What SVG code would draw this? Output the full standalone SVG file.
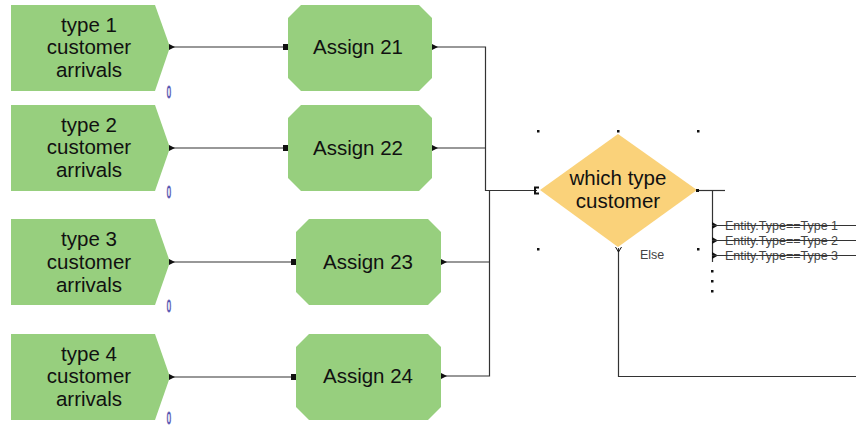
<svg xmlns="http://www.w3.org/2000/svg" width="856" height="427" viewBox="0 0 856 427">
<defs>
<style>
.create{fill:#97cf7e;}
.assign{fill:#97cf7e;}
.decide{fill:#fad27a;}
.lbl{font-family:"Liberation Sans",Arial,sans-serif;font-size:20.5px;fill:#111;text-anchor:middle;}
.zero{font-family:"Liberation Sans",Arial,sans-serif;font-size:17px;fill:none;stroke:#4444aa;stroke-width:1.1;text-anchor:middle;}
.small{font-family:"Liberation Sans",Arial,sans-serif;font-size:12.5px;fill:#444;}
.wire{fill:none;stroke:#333;stroke-width:1.2;}
.mk{fill:#111;}
.dot{fill:#111;}
</style>
</defs>
<rect width="856" height="427" fill="#fff"/>

<g id="create1">
<polygon class="create" points="11,5 155,5 170,47 155,91 11,91"/>
<text class="lbl" x="89" y="31.5">type 1</text>
<text class="lbl" x="89" y="54">customer</text>
<text class="lbl" x="89" y="77">arrivals</text>
<text class="zero" x="169" y="98" transform="translate(169 98) scale(0.45 1) translate(-169 -98)">0</text>
</g>
<g id="create2">
<polygon class="create" points="11,105 155,105 170,148 155,191 11,191"/>
<text class="lbl" x="89" y="131.5">type 2</text>
<text class="lbl" x="89" y="154">customer</text>
<text class="lbl" x="89" y="177">arrivals</text>
<text class="zero" x="169" y="198" transform="translate(169 198) scale(0.45 1) translate(-169 -198)">0</text>
</g>
<g id="create3">
<polygon class="create" points="11,219 155,219 170,262 155,305 11,305"/>
<text class="lbl" x="89" y="246">type 3</text>
<text class="lbl" x="89" y="268.5">customer</text>
<text class="lbl" x="89" y="291.5">arrivals</text>
<text class="zero" x="169" y="312" transform="translate(169 312) scale(0.45 1) translate(-169 -312)">0</text>
</g>
<g id="create4">
<polygon class="create" points="11,334 155,334 170,377 155,420 11,420"/>
<text class="lbl" x="89" y="360.5">type 4</text>
<text class="lbl" x="89" y="383">customer</text>
<text class="lbl" x="89" y="406">arrivals</text>
<text class="zero" x="169" y="424" transform="translate(169 424) scale(0.45 1) translate(-169 -424)">0</text>
</g>

<g id="assign21">
<polygon class="assign" points="301,5 419,5 432,18 432,78 419,91 301,91 288,78 288,18"/>
<text class="lbl" x="358" y="54">Assign 21</text>
</g>
<g id="assign22">
<polygon class="assign" points="301,105 419,105 432,118 432,178 419,191 301,191 288,178 288,118"/>
<text class="lbl" x="358" y="155">Assign 22</text>
</g>
<g id="assign23">
<polygon class="assign" points="309,219 428,219 441,232 441,292 428,305 309,305 296,292 296,232"/>
<text class="lbl" x="368" y="269">Assign 23</text>
</g>
<g id="assign24">
<polygon class="assign" points="309,334 428,334 441,347 441,407 428,420 309,420 296,407 296,347"/>
<text class="lbl" x="368" y="383">Assign 24</text>
</g>

<g id="decide">
<polygon class="decide" points="540,190 618,134 697,190 618,247"/>
<text class="lbl" x="618" y="185">which type</text>
<text class="lbl" x="618" y="208">customer</text>
<rect class="dot" x="537" y="130" width="2.5" height="2.5"/>
<rect class="dot" x="617" y="130" width="2.5" height="2.5"/>
<rect class="dot" x="697" y="130" width="2.5" height="2.5"/>
<rect class="dot" x="537" y="248" width="2.5" height="2.5"/>
<rect class="dot" x="697" y="248" width="2.5" height="2.5"/>
<text class="small" x="640" y="259">Else</text>
</g>

<g id="connectors">
<path class="wire" d="M172,47 H288"/>
<path class="wire" d="M172,148 H288"/>
<path class="wire" d="M172,262 H296"/>
<path class="wire" d="M172,377 H296"/>
<path class="wire" d="M432,47 H485.5 V190.5 H537"/>
<path class="wire" d="M432,148 H485.5"/>
<path class="wire" d="M441,262 H489.5"/>
<path class="wire" d="M441,376 H489.5 V190.5"/>
<path class="wire" d="M697,190.5 H725"/>
<path class="wire" d="M712.5,190.5 V262"/>
<path class="wire" d="M618.5,248 V376.5 H856"/>
<polygon class="mk" points="169,44 175,47 169,50"/>
<polygon class="mk" points="169,145 175,148 169,151"/>
<polygon class="mk" points="169,259 175,262 169,265"/>
<polygon class="mk" points="169,374 175,377 169,380"/>
<rect class="mk" x="283" y="44" width="5" height="6"/>
<rect class="mk" x="283" y="145" width="5" height="6"/>
<rect class="mk" x="291" y="259" width="5" height="6"/>
<rect class="mk" x="291" y="374" width="5" height="6"/>
<polygon class="mk" points="432,44 438,47 432,50"/>
<polygon class="mk" points="432,145 438,148 432,151"/>
<polygon class="mk" points="441,259 447,262 441,265"/>
<polygon class="mk" points="441,373 447,376 441,379"/>
<path d="M539,187.5 H535 V193.5 H539" fill="none" stroke="#111" stroke-width="2"/>
<rect class="mk" x="696" y="189" width="3" height="3"/>
<path d="M615.5,247 L618.5,252 L621.5,247" fill="none" stroke="#111" stroke-width="1"/>
<polygon class="mk" points="712,222 718,225.5 712,229"/>
<polygon class="mk" points="712,237 718,240.5 712,244"/>
<polygon class="mk" points="712,252 718,255.5 712,259"/>
<rect class="dot" x="711" y="270" width="2.5" height="2.5"/>
<rect class="dot" x="711" y="280" width="2.5" height="2.5"/>
<rect class="dot" x="711" y="290" width="2.5" height="2.5"/>
</g>
<g id="branch-labels">
<text class="small" x="725" y="229.5">Entity.Type==Type 1</text>
<text class="small" x="725" y="244.5">Entity.Type==Type 2</text>
<text class="small" x="725" y="259.5">Entity.Type==Type 3</text>
</g>
<path class="wire" d="M712,225.5 H856 M712,240.5 H856 M712,255.5 H856" stroke="#555"/>
</svg>
